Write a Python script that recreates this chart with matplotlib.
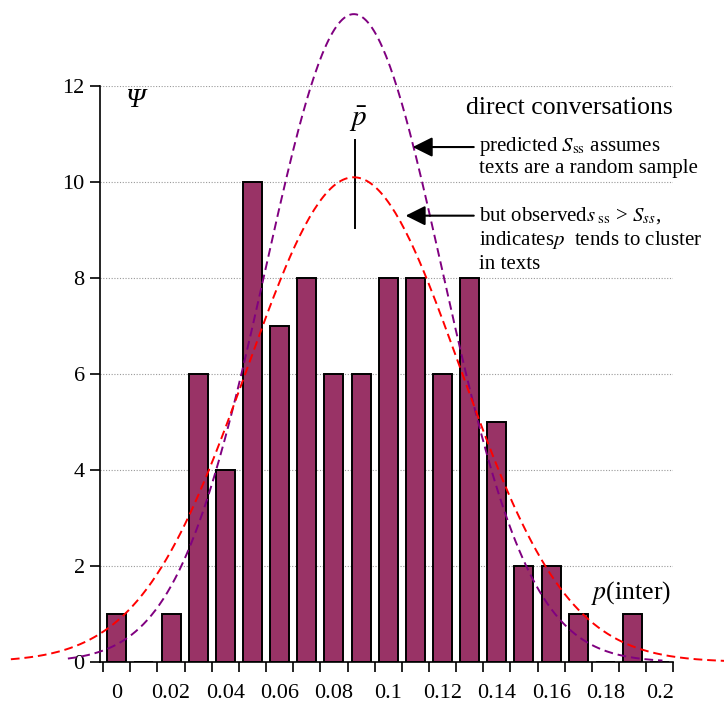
import numpy as np
import matplotlib
matplotlib.use("Agg")
from matplotlib import pyplot as plt

plt.rcParams['font.family'] = ['Liberation Serif', 'DejaVu Serif']
plt.rcParams['mathtext.fontset'] = 'stix'

# histogram of p(inter) per text
p_bins = [0.00, 0.01, 0.02, 0.03, 0.04, 0.05, 0.06, 0.07, 0.08, 0.09,
          0.10, 0.11, 0.12, 0.13, 0.14, 0.15, 0.16, 0.17, 0.18, 0.19, 0.20]
counts = [1, 0, 1, 6, 4, 10, 7, 8, 6, 6, 8, 8, 6, 8, 5, 2, 2, 1, 0, 1, 0]
x_labels = ['0', '0.02', '0.04', '0.06', '0.08', '0.1', '0.12', '0.14', '0.16', '0.18', '0.2']

# normal curves (mean, sd, peak height, x range drawn)
p_mean = 0.0873
pred_sd, pred_peak, pred_range = 0.0325, 13.5, (-0.018, 0.201)
obs_sd, obs_peak, obs_range = 0.0392, 10.1, (-0.039, 0.224)

fig = plt.figure(figsize=(7.24, 7.04), dpi=100)
ax = fig.add_axes([0.138, 0.0597, 0.792, 0.818])

ax.bar(p_bins, counts, width=0.007, color='#993366', edgecolor='black', linewidth=1.4, zorder=2)

def curve(sd, peak, rng):
    xs = np.linspace(rng[0], rng[1], 300)
    return xs, peak * np.exp(-0.5 * ((xs - p_mean) / sd) ** 2)

xp, yp = curve(pred_sd, pred_peak, pred_range)
xo, yo = curve(obs_sd, obs_peak, obs_range)
ax.plot(xp, yp, color='#800080', lw=1.4, dashes=(4.5, 2.5), clip_on=False, zorder=3)
ax.plot(xo, yo, color='#FF0000', lw=1.4, dashes=(4.5, 2.5), clip_on=False, zorder=3)

ax.set_xlim(-0.0062, 0.205)
ax.set_ylim(0, 12)
ax.set_yticks(range(0, 13, 2))
ax.yaxis.grid(True, linestyle=(0, (1, 1.5)), color='#999999', lw=0.8)
ax.set_axisbelow(True)

ax.set_xticks([float(l) for l in x_labels])
ax.set_xticklabels(x_labels)
ax.set_xticks(np.arange(-0.005, 0.206, 0.01), minor=True)
ax.tick_params(axis='x', which='major', length=0, pad=16, labelsize=16)
ax.tick_params(axis='x', which='minor', length=7, width=1.2, direction='out')
ax.tick_params(axis='y', length=7, width=1.2, direction='out', labelsize=16, pad=4)

for s in ['top', 'right']:
    ax.spines[s].set_visible(False)
for s in ['left', 'bottom']:
    ax.spines[s].set_linewidth(1.2)

ax.text(0.0032, 11.7, 'Ψ', style='italic', fontsize=20, va='center', ha='left')
ax.text(0.1285, 11.55, 'direct conversations', fontsize=18.5, va='center', ha='left')
ax.text(0.0888, 11.3, r'$\bar{p}$', fontsize=21, va='center', ha='center')
ax.plot([0.0877, 0.0877], [10.875, 9.04], color='black', lw=1.4, clip_on=False)

arrow = dict(arrowstyle='-|>,head_length=0.6,head_width=0.3', mutation_scale=20,
             color='black', lw=1.5, shrinkA=0, shrinkB=0)
ax.annotate('', xy=(0.109, 10.73), xytext=(0.1315, 10.73), arrowprops=arrow)
ax.annotate('', xy=(0.1064, 9.3), xytext=(0.1315, 9.3), arrowprops=arrow)

fs = 15
ax.text(0.1336, 10.75, r'predicted $S_{\rm ss}$ assumes', fontsize=fs, va='center', ha='left')
ax.text(0.1336, 10.29, 'texts are a random sample', fontsize=fs, va='center', ha='left')
ax.text(0.1336, 9.31, r'but observed$s_{\rm\ ss}$ > $S_{ss}$,', fontsize=fs, va='center', ha='left')
ax.text(0.1336, 8.8, r'indicates$p$  tends to cluster', fontsize=fs, va='center', ha='left')
ax.text(0.1336, 8.28, 'in texts', fontsize=fs, va='center', ha='left')

ax.text(0.2042, 1.44, r'$p$(inter)', fontsize=18.5, va='center', ha='right')

fig.savefig('out.png', dpi=100)
